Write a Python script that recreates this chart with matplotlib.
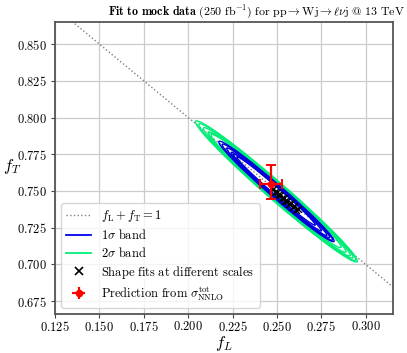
import numpy as np
import matplotlib
matplotlib.use("Agg")
import matplotlib.pyplot as plt
from matplotlib.patches import Ellipse
from matplotlib.lines import Line2D

plt.rcParams['mathtext.fontset'] = 'cm'
plt.rcParams['font.family'] = 'serif'
plt.rcParams['font.serif'] = ['cmr10', 'DejaVu Serif']
plt.rcParams['axes.formatter.use_mathtext'] = True

# ---- data ----
# fitted ellipses at different scales (centre, semi-major, semi-minor, angle)
scale_fL = [0.2497, 0.2502, 0.2507, 0.2512, 0.2502, 0.2495]
scale_fT = [0.7497, 0.7492, 0.7487, 0.7480, 0.7490, 0.7500]
sig1_major = [0.047, 0.045, 0.042, 0.039, 0.036, 0.032]
sig1_minor = [0.0040, 0.0036, 0.0032, 0.0028, 0.0025, 0.0022]
sig2_major = [0.066, 0.064, 0.061, 0.058, 0.056, 0.053]
sig2_minor = [0.0056, 0.0053, 0.0050, 0.0047, 0.0045, 0.0043]
ell_angle = [-46.5, -46.5, -46.5, -46.5, -46.5, -46.5]

shape_fL = [0.2478, 0.2498, 0.2518, 0.2538, 0.2558, 0.2578, 0.2598, 0.2618,
            0.2488, 0.2508, 0.2528, 0.2548, 0.2568, 0.2588, 0.2608]
shape_fT = [0.7515, 0.7495, 0.7475, 0.7455, 0.7435, 0.7415, 0.7395, 0.7375,
            0.7490, 0.7470, 0.7450, 0.7430, 0.7410, 0.7390, 0.7370]

pred_fL = [0.2467]
pred_fT = [0.7548]
pred_fL_err = [0.0064]
pred_fT_err_lo = [0.0104]
pred_fT_err_hi = [0.0129]

line_fL = [0.125, 0.3152]

xticks = [0.125, 0.150, 0.175, 0.200, 0.225, 0.250, 0.275, 0.300]
yticks = [0.675, 0.700, 0.725, 0.750, 0.775, 0.800, 0.825, 0.850]

# ---- plot ----
fig = plt.figure(figsize=(4.07, 3.53), dpi=100)
ax = fig.add_axes([0.135, 0.1105, 0.83, 0.8272])

ax.grid(True, color='#cccccc', lw=0.9, zorder=0)
ax.set_axisbelow(True)

lf = np.array(line_fL)
ax.plot(lf, 1 - lf, ls=':', color='gray', lw=1.0, zorder=2)

for i in range(len(scale_fL)):
    e2 = Ellipse((scale_fL[i], scale_fT[i]), 2 * sig2_major[i], 2 * sig2_minor[i],
                 angle=ell_angle[i], fill=False, ec='#00ee77', lw=1.0, zorder=3)
    ax.add_patch(e2)
for i in range(len(scale_fL)):
    e1 = Ellipse((scale_fL[i], scale_fT[i]), 2 * sig1_major[i], 2 * sig1_minor[i],
                 angle=ell_angle[i], fill=False, ec='#0000dd', lw=1.0, zorder=4)
    ax.add_patch(e1)

ax.scatter(shape_fL, shape_fT, marker='x', color='black', s=22, lw=1.0, zorder=5)

ax.errorbar(pred_fL, pred_fT, xerr=[pred_fL_err, pred_fL_err],
            yerr=[pred_fT_err_lo, pred_fT_err_hi], fmt='o', color='red',
            ms=4.5, lw=1.6, capsize=3.5, capthick=1.4, zorder=6)

ax.set_xlim(0.125, 0.3152)
ax.set_ylim(0.6663, 0.865)
ax.set_xticks(xticks)
ax.set_yticks(yticks)
ax.set_xticklabels([f"${t:.3f}$" for t in xticks])
ax.set_yticklabels([f"${t:.3f}$" for t in yticks])
ax.tick_params(labelsize=9, length=3, pad=2.5, color='#444444')
ax.tick_params(axis='x', pad=1.5)
for s in ax.spines.values():
    s.set_color('#555555')
    s.set_linewidth(1.3)

ax.set_xlabel(r'$f_L$', fontsize=12)
ax.xaxis.set_label_coords(0.5, -0.1)
ax.xaxis.label.set_va('center')
ax.set_ylabel(r'$f_T$', fontsize=12, rotation=0)
ax.yaxis.set_label_coords(-0.128, 0.505)
ax.yaxis.label.set_va('center')
ax.yaxis.label.set_ha('center')

fig.text(0.995, 0.955,
         r'$\mathbf{Fit\ to\ mock\ data}\ (250\ \mathrm{fb}^{-1})\ \mathrm{for\ pp} \to \mathrm{Wj} \to \ell\nu\mathrm{j}\ @\ 13\ \mathrm{TeV}$',
         fontsize=8.6, ha='right', va='baseline')

handles = [
    Line2D([], [], ls=':', color='gray', lw=1.0),
    Line2D([], [], color='#0000ee', lw=1.3),
    Line2D([], [], color='#00ee77', lw=1.3),
    Line2D([], [], marker='x', ls='', color='black', ms=6, mew=1.2),
]
eb = ax.errorbar([], [], xerr=[], yerr=[], fmt='o', color='red', ms=4.5, lw=1.6,
                 capsize=3.5, capthick=1.4)
handles.append(eb)
labels = [r'$f_{\rm L}+f_{\rm T}=1$', r'$1\sigma\ \mathrm{band}$', r'$2\sigma\ \mathrm{band}$',
          r'$\mathrm{Shape\ fits\ at\ different\ scales}$',
          r'$\mathrm{Prediction\ from\ }\sigma^{\rm tot}_{\rm NNLO}$']
ax.legend(handles, labels, loc='lower left', fontsize=9, framealpha=0.8,
          handlelength=2.0, borderaxespad=0.5, labelspacing=0.3)

fig.savefig('out.png', dpi=100)
